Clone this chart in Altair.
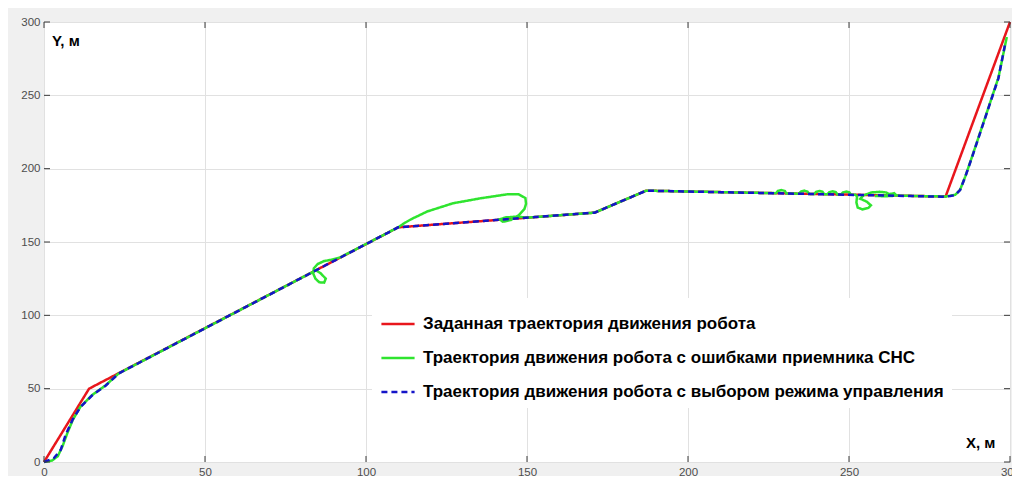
import altair as alt
import pandas as pd

# ---- data ----
series_names = [
    "Заданная траектория движения робота",
    "Траектория движения робота с ошибками приемника СНС",
    "Траектория движения робота с выбором режима управления",
]
series_colors = ["#e8161c", "#2fe42f", "#1414c8"]

red_x = [0, 14, 110, 171, 187, 280, 300]
red_y = [0, 50, 160, 170, 185, 181, 300]

green_x = [0, 2.5, 4.3, 5.8, 7.3, 9, 11.3, 14.9, 19.1, 23.2, 80, 84.5, 86, 87.5, 87, 85.5, 84.3, 83.6, 83.8, 85, 87, 89, 92,
           110, 112, 114, 119, 127, 135.6, 143.8, 147.4, 149.5, 149.7, 149.2, 147.4, 145, 142.5, 141.5, 143.5, 147, 150,
           171, 187, 222, 227.3, 227.9, 229, 230.1, 230.5, 234.5, 235.1, 236.1, 237.1, 237.6, 239.2, 239.8, 240.8, 241.8,
           242.3, 243.3, 243.9, 244.9, 245.9, 246.4, 247.5, 248.1, 249.1, 250.1, 250.6, 252, 252.5, 252.3, 252.7, 254.2,
           256, 256.8, 255.5, 253.5, 254.5, 256, 257, 259.5, 261.5, 262.5, 264, 264.5, 263.5, 261, 258, 262, 268, 280,
           283, 284.5, 286.1, 288.2, 292.3, 296.4, 299]
green_y = [0, 1, 4, 11, 20, 29, 37.6, 45.6, 52.2, 60.4, 125.6, 130.7, 128.5, 125, 122.3, 122.5, 125, 128.5, 132, 135, 137, 137.8, 139.5,
           160, 163, 165.5, 170.8, 176.4, 179.8, 182.5, 182.5, 180, 176, 172.5, 168.2, 165, 163.8, 165.5, 166.8, 167.3, 166.6,
           170, 185, 183.5, 183.3, 184.8, 185.4, 184.8, 183.1, 182.95, 184.4, 185.0, 184.4, 182.8, 182.75, 184.2, 184.8, 184.2,
           182.6, 182.58, 184, 184.6, 184, 182.45, 182.4, 183.8, 184.4, 183.8, 182.3, 182.2, 181, 177, 173.5, 172.2,
           173.2, 175, 177.5, 179.5, 181.8, 183, 183.8, 184.2, 183.8, 182.6, 183.3, 182.3, 181.4, 181.2, 181.4, 181.8, 181.5, 181,
           182.2, 185.6, 194.6, 208, 235, 262, 289.7]

blue_x = [0, 3.1, 5.2, 6.7, 8.8, 11.3, 14.9, 19.1, 23.2, 110, 171, 187, 279, 281.5, 283, 284.5, 286.1, 288.2, 292.3, 296.4, 298.5]
blue_y = [0, 2.7, 8.3, 18.4, 28.5, 37.4, 45.3, 52, 60.4, 160, 170, 185, 180.9, 181.3, 182, 185.4, 194.4, 207.8, 234.7, 261.6, 285.2]

tick_values = [0, 50, 100, 150, 200, 250, 300]
axis_titles = ["Y, м", "X, м"]

# ---- table ----
rows = []
for name, xs, ys in zip(series_names, [red_x, green_x, blue_x], [red_y, green_y, blue_y]):
    for i, (xv, yv) in enumerate(zip(xs, ys)):
        rows.append({"s": name, "i": i, "x": xv, "y": yv})
df = pd.DataFrame(rows)
ticks_df = pd.DataFrame({"t": tick_values})

W, H = 966, 440
FONT = "Liberation Sans"

xscale = alt.Scale(domain=[0, 300], nice=False, zero=False)
yscale = alt.Scale(domain=[0, 300], nice=False, zero=False)

legend_cfg = dict(
    title=None, orient="none", legendX=328, legendY=276,
    fillColor="white", padding=8, symbolType="stroke", symbolSize=1100,
    symbolStrokeWidth=2.5, labelFont=FONT, labelFontSize=17, labelFontWeight="bold",
    labelColor="black", labelLimit=900, rowPadding=8, labelOffset=7,
)

color = alt.Color(
    "s:N",
    scale=alt.Scale(domain=series_names, range=series_colors),
    legend=alt.Legend(**legend_cfg),
)
dash = alt.StrokeDash(
    "s:N",
    scale=alt.Scale(domain=series_names, range=[[1, 0], [1, 0], [6, 4]]),
    legend=alt.Legend(**legend_cfg),
)

axis_cfg = dict(values=tick_values, title=None, grid=True, ticks=False, domain=False,
                labelFont=FONT, labelFontSize=11.5, labelColor="#4d4d4d", labelPadding=4,
                labelFlush=False, gridColor="#e1e1e1", labelOverlap=False)

base = alt.Chart(df).mark_line(strokeWidth=2.5).encode(
    x=alt.X("x:Q", scale=xscale, axis=alt.Axis(**axis_cfg)),
    y=alt.Y("y:Q", scale=yscale, axis=alt.Axis(**axis_cfg)),
    color=color,
    strokeDash=dash,
    order=alt.Order("i:Q"),
)

lines = [base.transform_filter(alt.datum.s == n) for n in series_names]

tick_color = "#3a3a3a"
tb = alt.Chart(ticks_df).mark_rule(color=tick_color, strokeWidth=1)
xt_bottom = tb.encode(x=alt.X("t:Q", scale=xscale), y=alt.value(H), y2=alt.value(H - 6))
xt_top = tb.encode(x=alt.X("t:Q", scale=xscale), y=alt.value(0), y2=alt.value(6))
yt_left = tb.encode(y=alt.Y("t:Q", scale=yscale), x=alt.value(0), x2=alt.value(6))
yt_right = tb.encode(y=alt.Y("t:Q", scale=yscale), x=alt.value(W), x2=alt.value(W - 6))

ylab = alt.Chart(pd.DataFrame({"t": [axis_titles[0]]})).mark_text(
    font=FONT, fontSize=15, fontWeight="bold", color="black", align="left", baseline="alphabetic"
).encode(text="t:N", x=alt.value(8), y=alt.value(24))
xlab = alt.Chart(pd.DataFrame({"t": [axis_titles[1]]})).mark_text(
    font=FONT, fontSize=15, fontWeight="bold", color="black", align="left", baseline="alphabetic"
).encode(text="t:N", x=alt.value(922), y=alt.value(426))

chart = alt.layer(
    *lines, xt_bottom, xt_top, yt_left, yt_right, ylab, xlab
).properties(
    width=W, height=H,
    autosize=alt.AutoSizeParams(type="none"),
    padding={"left": 36, "top": 14, "right": 2, "bottom": 14},
    background="#f0f0f0",
).configure_view(
    fill="white", stroke="#8a8a8a", strokeWidth=1
)

chart.save("out.html", embed_options={"renderer": "svg", "actions": False})
